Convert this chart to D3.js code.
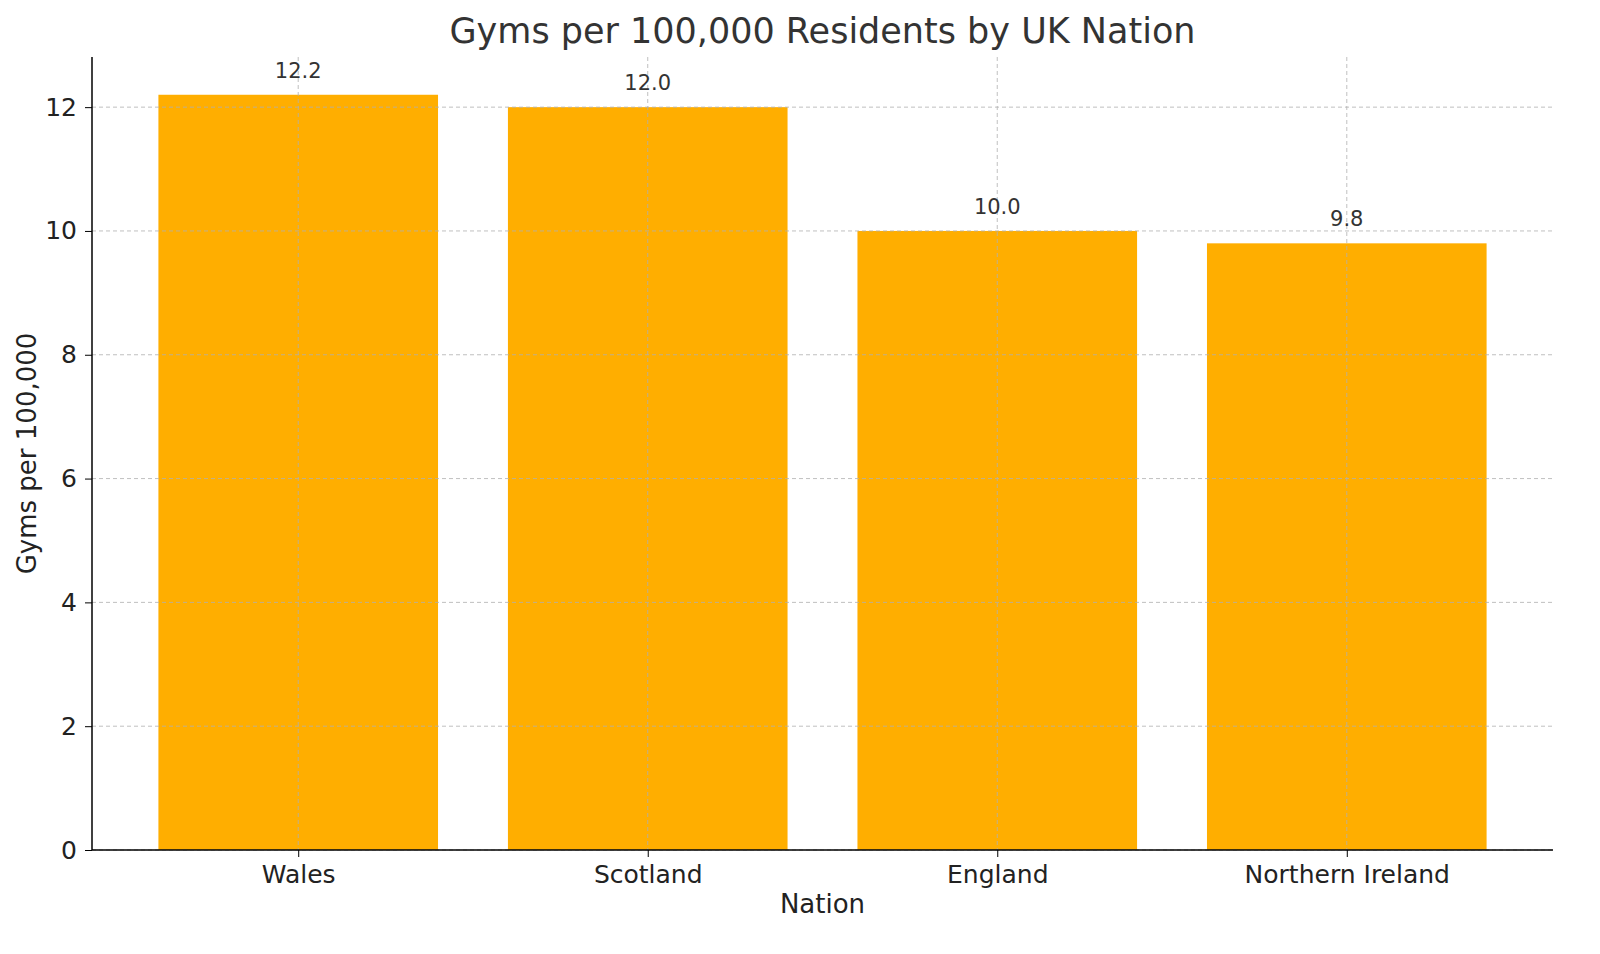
<!DOCTYPE html>
<html><head><meta charset="utf-8">
<script src="https://cdn.jsdelivr.net/npm/d3@7"></script>
<style>body{margin:0;background:#fff}text{font-family:"DejaVu Sans",sans-serif}</style>
</head><body><svg id="c" width="1600" height="954"></svg>
<script>
const nations = ["Wales","Scotland","England","Northern Ireland"];
const gyms = [12.2,12.0,10.0,9.8];
const yTicks = [0,2,4,6,8,10,12];
const svg = d3.select("#c");
const L=92,R=1553,T=57,B=850;
const x = d3.scaleLinear().domain([-0.59,3.59]).range([L,R]);
const y = d3.scaleLinear().domain([0,12.81]).range([B,T]);
const bw = x(0.4)-x(-0.4);
const g = svg.append("g");
g.selectAll("rect").data(gyms).enter().append("rect")
 .attr("x",(d,i)=>x(i)-bw/2).attr("width",bw).attr("y",d=>y(d)).attr("height",d=>B-y(d)).attr("fill","#ffae00");
yTicks.forEach(t=>g.append("line").attr("x1",L).attr("x2",R).attr("y1",y(t)).attr("y2",y(t)).attr("stroke","#b0b0b0").attr("stroke-dasharray","4,3").attr("stroke-opacity",0.8));
nations.forEach((n,i)=>g.append("line").attr("x1",x(i)).attr("x2",x(i)).attr("y1",T).attr("y2",B).attr("stroke","#b0b0b0").attr("stroke-dasharray","4,3").attr("stroke-opacity",0.8));
const ya = svg.append("g").attr("transform",`translate(${L},0)`).call(d3.axisLeft(y).tickValues(yTicks).tickSize(7).tickPadding(8));
ya.select(".domain").remove();
ya.selectAll("text").attr("font-size",25).attr("fill","#222").attr("font-family","DejaVu Sans");
const xa = svg.append("g").attr("transform",`translate(0,${B})`).call(d3.axisBottom(x).tickValues([0,1,2,3]).tickFormat(i=>nations[i]).tickSize(7).tickPadding(8));
xa.select(".domain").remove();
xa.selectAll("text").attr("font-size",25).attr("fill","#222").attr("font-family","DejaVu Sans");
svg.append("line").attr("x1",L).attr("x2",L).attr("y1",T).attr("y2",B).attr("stroke","#000").attr("stroke-width",1.5);
svg.append("line").attr("x1",L).attr("x2",R).attr("y1",B).attr("y2",B).attr("stroke","#000").attr("stroke-width",1.5);
g.selectAll(".v").data(gyms).enter().append("text").attr("x",(d,i)=>x(i)).attr("y",d=>y(d)-17)
 .attr("text-anchor","middle").attr("font-size",21).attr("fill","#333").text(d=>d.toFixed(1));
svg.append("text").attr("x",(L+R)/2).attr("y",43).attr("text-anchor","middle").attr("font-size",35).attr("fill","#333").text("Gyms per 100,000 Residents by UK Nation");
svg.append("text").attr("x",(L+R)/2).attr("y",913).attr("text-anchor","middle").attr("font-size",26).attr("fill","#222").text("Nation");
svg.append("text").attr("transform",`translate(36,${(T+B)/2}) rotate(-90)`).attr("text-anchor","middle").attr("font-size",26).attr("fill","#222").text("Gyms per 100,000");
</script></body></html>
